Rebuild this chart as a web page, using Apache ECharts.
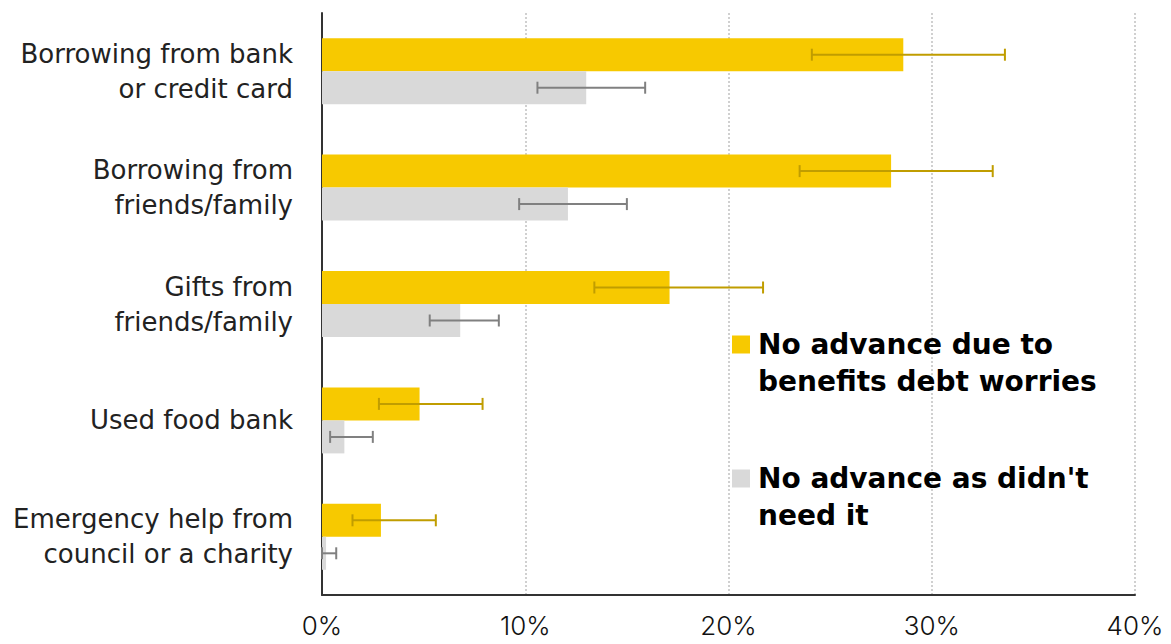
<!DOCTYPE html>
<html>
<head>
<meta charset="utf-8">
<script src="https://cdn.jsdelivr.net/npm/echarts@6/dist/echarts.min.js"></script>
<style>
html,body{margin:0;padding:0;background:#fff;}
#chart{width:1171px;height:644px;}
</style>
</head>
<body>
<div id="chart"></div>
<script>
const categories = [
  "Borrowing from bank\nor credit card",
  "Borrowing from\nfriends/family",
  "Gifts from\nfriends/family",
  "Used food bank",
  "Emergency help from\ncouncil or a charity"
];
const seriesNames = ["No advance due to benefits debt worries", "No advance as didn't need it"];
const debtWorries = [28.6, 28.0, 17.1, 4.8, 2.9];
const debtWorriesLow = [24.1, 23.5, 13.4, 2.8, 1.5];
const debtWorriesHigh = [33.6, 33.0, 21.7, 7.9, 5.6];
const didntNeed = [13.0, 12.1, 6.8, 1.1, 0.2];
const didntNeedLow = [10.6, 9.7, 5.3, 0.4, 0.0];
const didntNeedHigh = [15.9, 15.0, 8.7, 2.5, 0.7];
const tickValues = [0, 10, 20, 30, 40];

const BAR_W = 33;
const FONT = "Inter, Roboto, 'DejaVu Sans', sans-serif";
const WIDE = "'DejaVu Sans', Inter, sans-serif";

function errorSeries(low, high, color, offset) {
  return {
    type: 'custom',
    silent: true,
    z: 5,
    encode: { x: [1, 2], y: 0 },
    data: categories.map((c, i) => [i, low[i], high[i]]),
    renderItem: function (params, api) {
      const a = api.coord([api.value(1), api.value(0)]);
      const b = api.coord([api.value(2), api.value(0)]);
      const y = a[1] + offset;
      const cap = 6;
      const style = { stroke: color, lineWidth: 2 };
      return {
        type: 'group',
        children: [
          { type: 'line', shape: { x1: a[0], y1: y, x2: b[0], y2: y }, style: style },
          { type: 'line', shape: { x1: a[0], y1: y - cap, x2: a[0], y2: y + cap }, style: style },
          { type: 'line', shape: { x1: b[0], y1: y - cap, x2: b[0], y2: y + cap }, style: style }
        ]
      };
    }
  };
}

const chart = echarts.init(document.getElementById('chart'), null, { renderer: 'svg' });
chart.setOption({
  animation: false,
  backgroundColor: '#ffffff',
  grid: { left: 322, right: 36, top: 13, bottom: 49, containLabel: false },
  legend: {
    data: seriesNames,
    orient: 'vertical',
    left: 732,
    top: 289,
    padding: 0,
    itemGap: 23,
    itemWidth: 18,
    itemHeight: 18,
    icon: 'rect',
    selectedMode: false,
    formatter: function (name) {
      return name === seriesNames[0] ? '\nNo advance due to\nbenefits debt worries' : "\nNo advance as didn't\nneed it";
    },
    textStyle: {
      fontFamily: WIDE,
      fontSize: 28,
      fontWeight: 'bold',
      color: '#000',
      lineHeight: 37,
      padding: [0, 0, 0, 3]
    }
  },
  xAxis: {
    type: 'value',
    min: 0,
    max: 40,
    interval: 10,
    axisLine: { show: true, lineStyle: { color: '#333', width: 2 } },
    axisTick: { show: false },
    splitLine: { show: true, lineStyle: { color: '#d0d0d0', type: 'dotted', width: 2 } },
    axisLabel: {
      formatter: function (v) { return tickValues.indexOf(v) >= 0 ? v + '%' : ''; },
      fontFamily: FONT,
      fontSize: 26,
      fontWeight: 300,
      color: '#111',
      margin: 17
    }
  },
  yAxis: {
    type: 'category',
    data: categories,
    inverse: true,
    axisLine: { show: true, lineStyle: { color: '#333', width: 2 } },
    axisTick: { show: false },
    axisLabel: {
      fontFamily: WIDE,
      fontSize: 26,
      color: '#222',
      lineHeight: 35,
      margin: 29,
      align: 'right'
    }
  },
  series: [
    {
      name: seriesNames[0],
      type: 'bar',
      data: debtWorries,
      barWidth: BAR_W,
      barGap: '0%',
      itemStyle: { color: '#F7C900' }
    },
    {
      name: seriesNames[1],
      type: 'bar',
      data: didntNeed,
      barWidth: BAR_W,
      barGap: '0%',
      itemStyle: { color: '#D9D9D9' }
    },
    errorSeries(debtWorriesLow, debtWorriesHigh, '#C09D00', -BAR_W / 2),
    errorSeries(didntNeedLow, didntNeedHigh, '#808080', BAR_W / 2)
  ]
});
</script>
</body>
</html>
